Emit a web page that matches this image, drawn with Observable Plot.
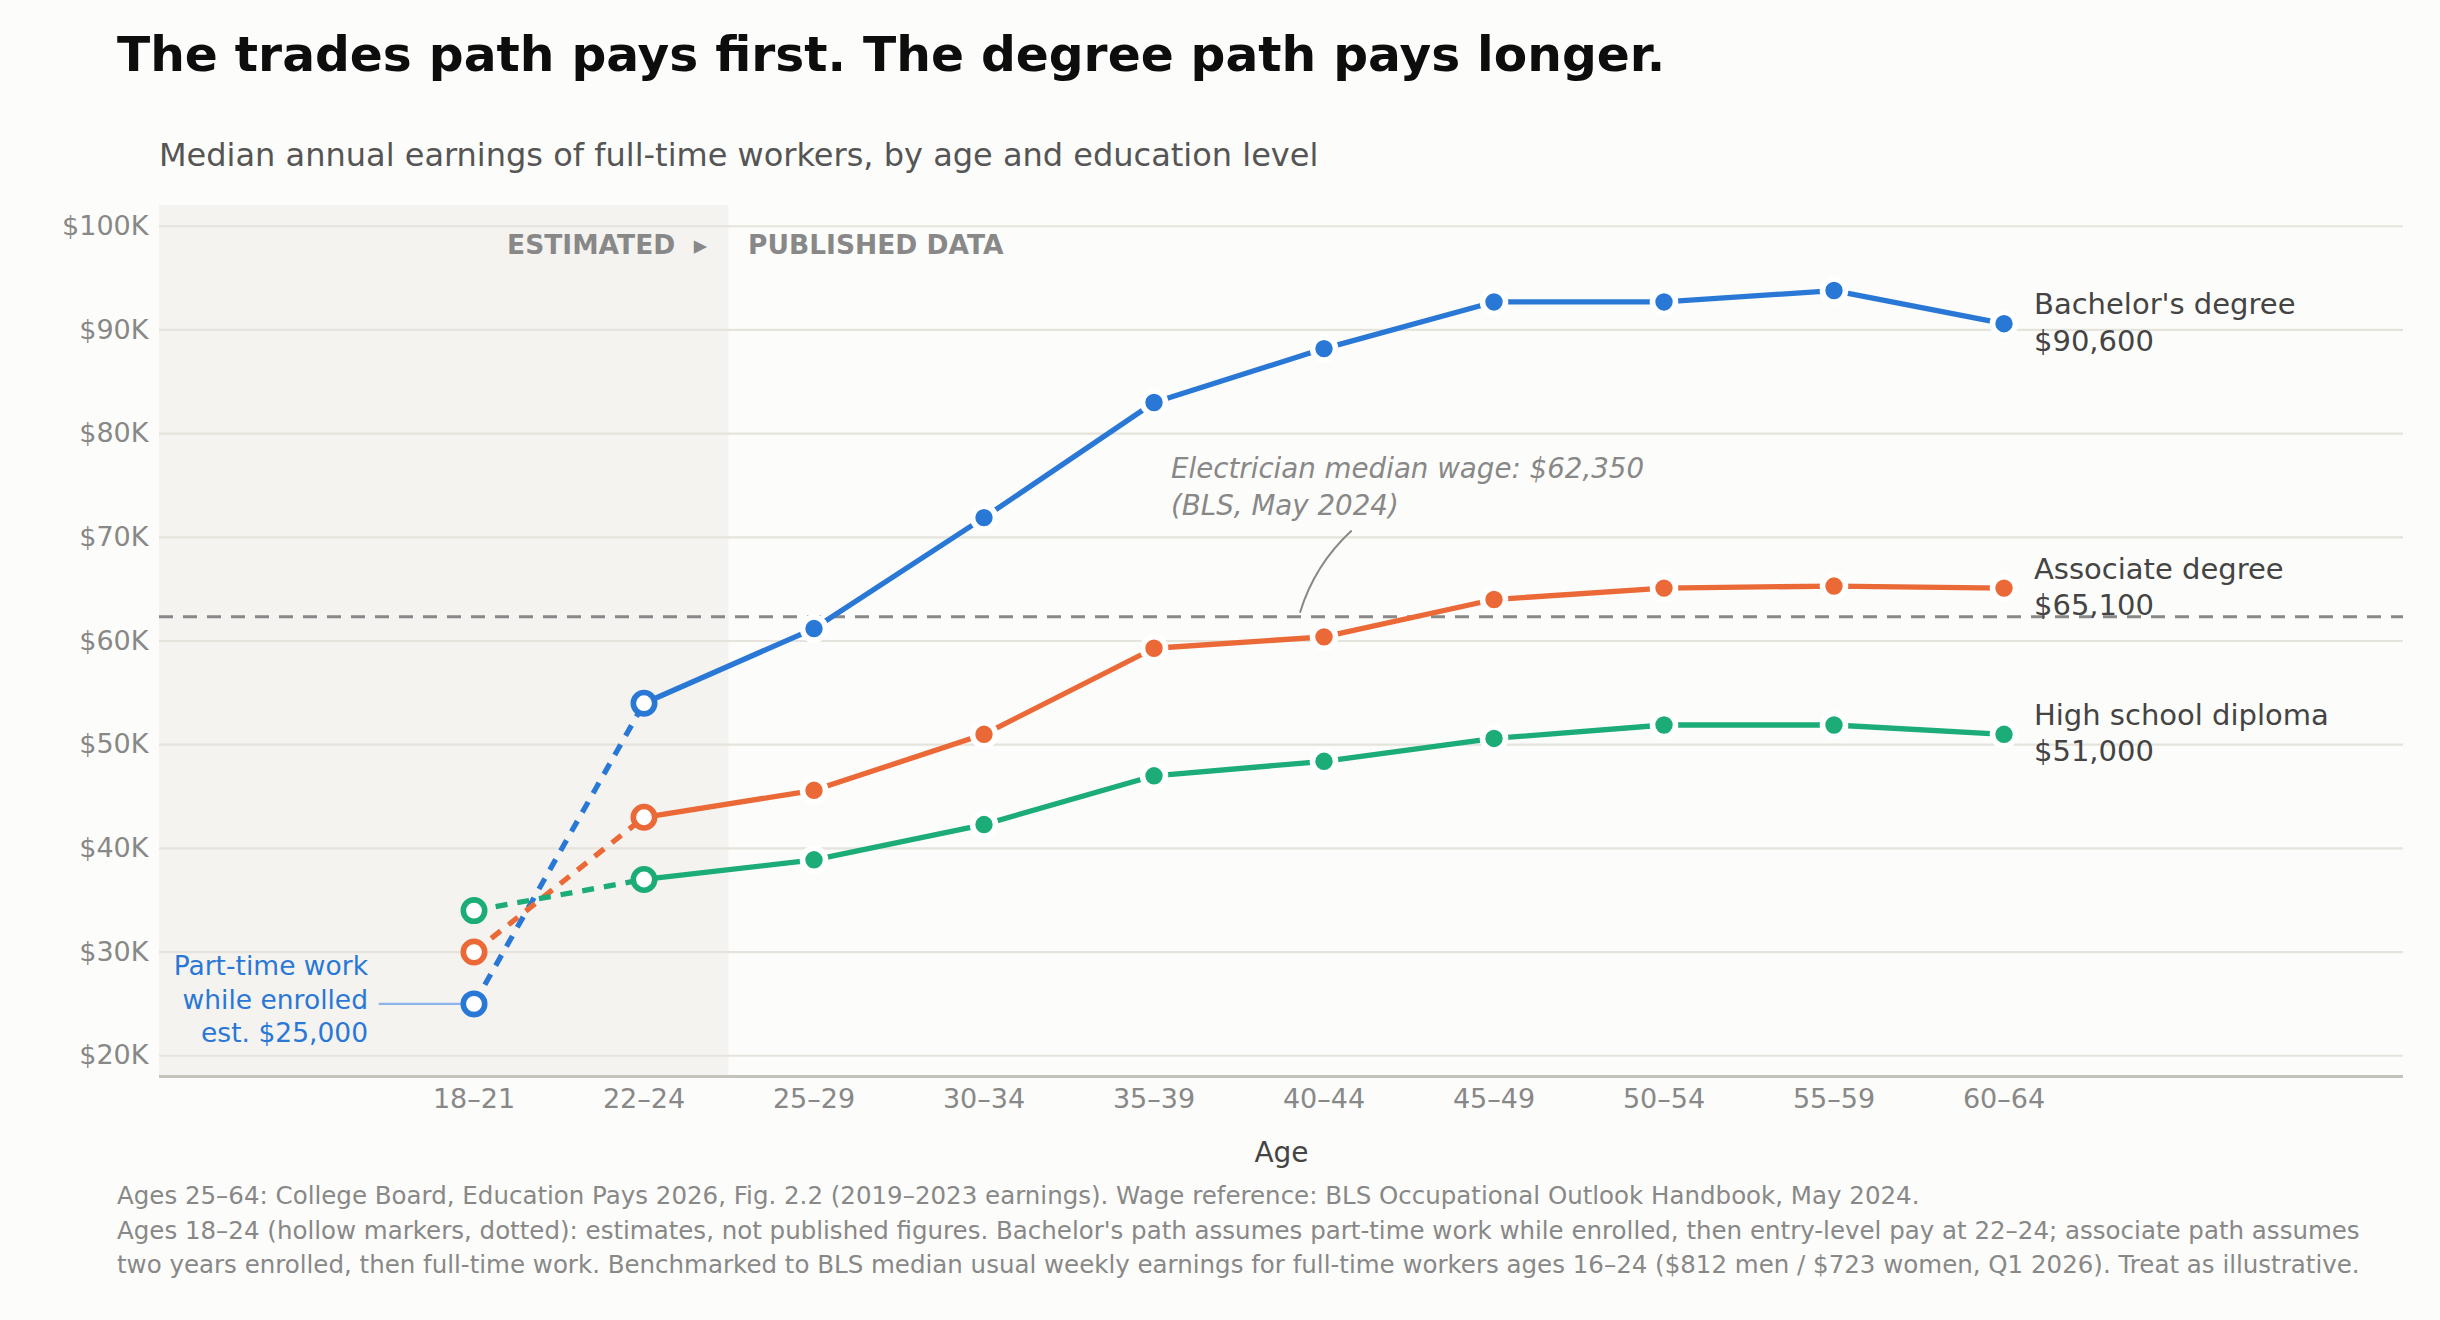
<!DOCTYPE html>
<html>
<head>
<meta charset="utf-8">
<script src="https://cdn.jsdelivr.net/npm/d3@7"></script>
<script src="https://cdn.jsdelivr.net/npm/@observablehq/plot@0.6"></script>
<style>
  html, body { margin: 0; padding: 0; background: #fcfcfa; }
  #page { position: relative; width: 2440px; height: 1320px; background: #fcfcfa; font-family: "DejaVu Sans", sans-serif; overflow: hidden; }
  .abs { position: absolute; white-space: nowrap; }
  #title { left: 117px; top: 30px; font-size: 48.7px; line-height: 1; font-weight: bold; color: #0d0d0d; }
  #subtitle { left: 159px; top: 139px; font-size: 32px; line-height: 1; color: #555; }
  #chart { left: 0; top: 185px; }
  #footer { left: 117px; top: 1179px; font-size: 24.5px; line-height: 34.5px; color: #888; }
</style>
</head>
<body>
<div id="page">
  <div id="title" class="abs"></div>
  <div id="subtitle" class="abs"></div>
  <div id="chart" class="abs"></div>
  <div id="footer" class="abs"></div>
</div>
<script>
// ---- text ----
const titleText = "The trades path pays first. The degree path pays longer.";
const subtitleText = "Median annual earnings of full-time workers, by age and education level";
const footerLines = [
  "Ages 25–64: College Board, Education Pays 2026, Fig. 2.2 (2019–2023 earnings). Wage reference: BLS Occupational Outlook Handbook, May 2024.",
  "Ages 18–24 (hollow markers, dotted): estimates, not published figures. Bachelor's path assumes part-time work while enrolled, then entry-level pay at 22–24; associate path assumes",
  "two years enrolled, then full-time work. Benchmarked to BLS median usual weekly earnings for full-time workers ages 16–24 ($812 men / $723 women, Q1 2026). Treat as illustrative."
];

// ---- data ----
const ages = ["18–21", "22–24", "25–29", "30–34", "35–39", "40–44", "45–49", "50–54", "55–59", "60–64"];
const seriesNames = ["Bachelor's degree", "Associate degree", "High school diploma"];
const seriesColors = ["#2a78d6", "#eb6837", "#1bac78"];
const bachelor   = [25000, 54000, 61200, 71900, 83000, 88200, 92700, 92700, 93800, 90600];
const associate  = [30000, 43000, 45600, 51000, 59300, 60400, 64000, 65100, 65300, 65100];
const highSchool = [34000, 37000, 38900, 42300, 47000, 48400, 50600, 51900, 51900, 51000];
const estimatedCount = 2;          // first two age groups are estimates
const yTicks = [20000, 30000, 40000, 50000, 60000, 70000, 80000, 90000, 100000];
const yDomain = [18000, 102000];
const xDomain = [-1.85, 11.35];
const shadeEnd = 1.5;              // boundary between estimated and published
const electricianWage = 62350;
const electricianNote = "Electrician median wage: $62,350\n(BLS, May 2024)";
const electricianNotePos = {x: 4.1, y: 75100};
const electricianLeader = {x1: 5.16, y1: 70600, x2: 4.86, y2: 62800};
const partTimeNote = "Part-time work\nwhile enrolled\nest. $25,000";
const partTimeLeader = {x1: -0.56, x2: 0, y: 25000};

// ---- build table ----
const allValues = [bachelor, associate, highSchool];
const rows = seriesNames.flatMap((name, s) => allValues[s].map((v, i) => ({series: name, i, v})));
const estRows = rows.filter(d => d.i < estimatedCount);
const pubRows = rows.filter(d => d.i >= estimatedCount - 1);
const filledRows = rows.filter(d => d.i >= estimatedCount);
const lastRows = rows.filter(d => d.i === ages.length - 1);
const fmt = d3.format("$,");

document.getElementById("title").textContent = titleText;
document.getElementById("subtitle").textContent = subtitleText;
document.getElementById("footer").innerHTML = footerLines.map(l => `<div>${l}</div>`).join("");

const chart = Plot.plot({
  width: 2440,
  height: 990,
  marginLeft: 159,
  marginRight: 37,
  marginTop: 20,
  marginBottom: 99,
  style: {fontFamily: "DejaVu Sans, sans-serif", fontSize: "27px", background: "transparent", overflow: "visible"},
  x: {domain: xDomain},
  y: {domain: yDomain},
  color: {domain: seriesNames, range: seriesColors},
  marks: [
    Plot.rect([{}], {x1: xDomain[0], x2: shadeEnd, y1: yDomain[0], y2: yDomain[1], fill: "#f4f3f0"}),
    Plot.gridY(yTicks, {stroke: "#e4e3dc", strokeOpacity: 1, strokeWidth: 2.2}),
    Plot.ruleY([yDomain[0]], {stroke: "#c4c3bb", strokeWidth: 3}),
    Plot.axisY(yTicks, {tickSize: 0, tickPadding: 11, tickFormat: d => `$${d / 1000}K`, fontSize: 27, color: "#888", label: null}),
    Plot.axisX(d3.range(ages.length), {tickSize: 0, tickPadding: 12, tickFormat: i => ages[i], fontSize: 27, color: "#888", label: null}),
    Plot.text(["Age"], {frameAnchor: "bottom", dy: 85, fontSize: 28, fill: "#444"}),
    Plot.text(["ESTIMATED\u00a0 ▸"], {x: shadeEnd, frameAnchor: "top", dy: 30, dx: -22, textAnchor: "end", fontSize: 26.5, fontWeight: "bold", fill: "#888"}),
    Plot.text(["PUBLISHED DATA"], {x: shadeEnd, frameAnchor: "top", dy: 30, dx: 19, textAnchor: "start", fontSize: 26.5, fontWeight: "bold", fill: "#888"}),
    Plot.ruleY([electricianWage], {stroke: "#888", strokeWidth: 3, strokeDasharray: "14,10"}),
    Plot.text([electricianNote], {x: electricianNotePos.x, y: electricianNotePos.y, textAnchor: "start", lineAnchor: "middle", lineHeight: 1.35, fontSize: 27.7, fontStyle: "italic", fill: "#888"}),
    Plot.arrow([electricianLeader], {x1: "x1", y1: "y1", x2: "x2", y2: "y2", bend: -15, headLength: 0, stroke: "#888", strokeWidth: 2}),
    Plot.link([partTimeLeader], {x1: "x1", x2: "x2", y1: "y", y2: "y", stroke: "#8ab4ea", strokeWidth: 2.2}),
    Plot.text([{x: partTimeLeader.x2, y: partTimeLeader.y, t: partTimeNote}], {x: "x", y: "y", text: "t", dx: -106, dy: -6, textAnchor: "end", lineAnchor: "middle", lineHeight: 1.27, fontSize: 26.5, fill: "#2a78d6"}),
    Plot.line(estRows, {x: "i", y: "v", z: "series", stroke: "series", strokeWidth: 5.3, strokeDasharray: "12,10", strokeLinecap: "butt"}),
    Plot.line(pubRows, {x: "i", y: "v", z: "series", stroke: "series", strokeWidth: 5.3}),
    Plot.dot(estRows, {x: "i", y: "v", r: 10.7, fill: "white", stroke: "series", strokeWidth: 5.6}),
    Plot.dot(filledRows, {x: "i", y: "v", r: 11.5, fill: "series", stroke: "white", strokeWidth: 5.6}),
    Plot.text(lastRows, {x: "i", y: "v", text: d => `${d.series}\n${fmt(d.v)}`, dx: 30, dy: -3, textAnchor: "start", lineAnchor: "middle", lineHeight: 1.26, fontSize: 29, fill: "#444"})
  ]
});
document.getElementById("chart").appendChild(chart);
</script>
</body>
</html>
